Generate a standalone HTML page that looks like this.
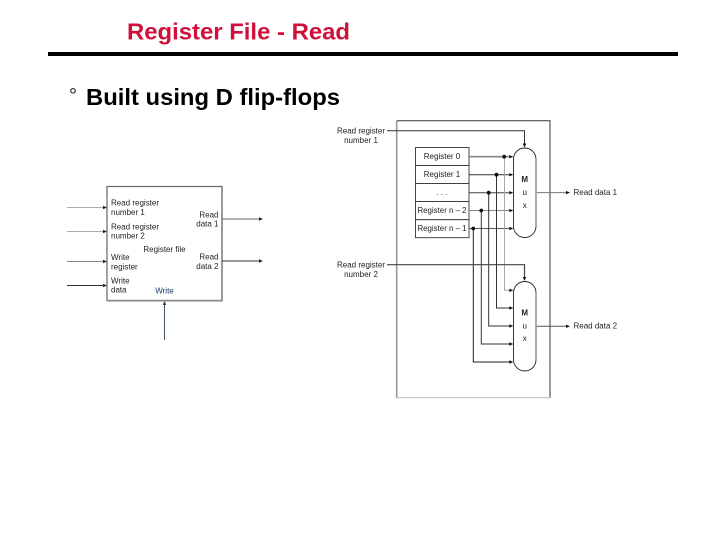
<!DOCTYPE html>
<html>
<head>
<meta charset="utf-8">
<style>
html,body{margin:0;padding:0;background:#fff;}
svg{display:block;}
text{font-family:"Liberation Sans",sans-serif;}
.s{font-size:8px;fill:#222;}
.m{text-anchor:middle;}
.e{text-anchor:end;}
</style>
</head>
<body>
<svg width="720" height="540" viewBox="0 0 720 540" xmlns="http://www.w3.org/2000/svg">
<rect width="720" height="540" fill="#fff"/>
<text x="127" y="39.5" fill="#d0103a" font-weight="bold" textLength="223" lengthAdjust="spacingAndGlyphs" style="font-size:23.5px">Register File - Read</text>
<rect x="48" y="52" width="630" height="4" fill="#000"/>
<text x="69" y="102" fill="#222" style="font-size:20px">°</text>
<text x="86" y="105" font-weight="bold" fill="#000" textLength="254" lengthAdjust="spacingAndGlyphs" style="font-size:23.5px">Built using D flip-flops</text>

<!-- Left block -->
<rect x="107" y="186.5" width="115" height="114" fill="#fff" stroke="#666" stroke-width="1.2"/>
<path d="M107 300.7H222V186.5" fill="none" stroke="#888" stroke-width="1.6"/>
<g fill="none" stroke-width="1">
<path d="M67 207.5H104" stroke="#aaa"/>
<path d="M67 231.5H104" stroke="#aaa"/>
<path d="M67 261.5H104" stroke="#888"/>
<path d="M67 285.5H104" stroke="#333"/>
<path d="M222 219H260" stroke="#666"/>
<path d="M222 261H260" stroke="#333"/>
<path d="M164.5 304V340" stroke="#456"/>
</g>
<g fill="#222">
<path d="M107 207.5l-4 -1.8v3.6z"/>
<path d="M107 231.5l-4 -1.8v3.6z"/>
<path d="M107 261.5l-4 -1.8v3.6z"/>
<path d="M107 285.5l-4 -1.8v3.6z"/>
<path d="M263 219l-4 -1.8v3.6z"/>
<path d="M263 261l-4 -1.8v3.6z"/>
<path d="M164.5 301l-1.8 4h3.6z" fill="#345"/>
</g>
<g class="s">
<text x="111" y="205.5">Read register</text>
<text x="111" y="215">number 1</text>
<text x="111" y="229.5">Read register</text>
<text x="111" y="238.5">number 2</text>
<text x="111" y="260">Write</text>
<text x="111" y="269.5">register</text>
<text x="111" y="283.5">Write</text>
<text x="111" y="292.5">data</text>
<text x="218.5" y="217.5" class="e">Read</text>
<text x="218.5" y="226.5" class="e">data 1</text>
<text x="218.5" y="259.5" class="e">Read</text>
<text x="218.5" y="269" class="e">data 2</text>
<text x="164.5" y="252" class="m">Register file</text>
<text x="164.5" y="293.5" class="m" style="fill:#1d3a66">Write</text>
</g>

<!-- Right frame -->
<path d="M396.7 120.7H550V397.7" fill="none" stroke="#333" stroke-width="1"/>
<path d="M396.7 120.7V397.7" fill="none" stroke="#999" stroke-width="1.6"/>
<path d="M396.7 397.7H550" fill="none" stroke="#bbb" stroke-width="1"/>

<!-- Registers -->
<g fill="#fff" stroke="#333" stroke-width="0.9">
<rect x="415.5" y="147.5" width="53.5" height="18"/>
<rect x="415.5" y="165.5" width="53.5" height="18"/>
<rect x="415.5" y="183.5" width="53.5" height="18"/>
<rect x="415.5" y="201.5" width="53.5" height="18.2"/>
<rect x="415.5" y="219.7" width="53.5" height="18"/>
</g>
<g class="s">
<text x="442" y="159" class="m">Register 0</text>
<text x="442" y="177" class="m">Register 1</text>
<text x="442" y="195" class="m">. . .</text>
<text x="442" y="213" class="m" style="font-size:7.9px">Register n – 2</text>
<text x="442" y="231" class="m" style="font-size:7.9px">Register n – 1</text>
</g>

<!-- Horizontal lines -->
<g fill="none" stroke-width="1">
<path d="M469 156.7H511" stroke="#888" stroke-width="1.6"/>
<path d="M469 174.7H510" stroke="#333"/>
<path d="M469 192.7H510" stroke="#444"/>
<path d="M469 210.5H510" stroke="#888"/>
<path d="M469 228.5H510" stroke="#555"/>
<!-- verticals -->
<path d="M504.5 156.7V290.3H510" stroke="#aaa"/>
<path d="M496.5 174.7V308H510" stroke="#333"/>
<path d="M488.7 192.7V326H510" stroke="#333"/>
<path d="M481.3 210.5V344H510" stroke="#333"/>
<path d="M473.3 228.5V362H510" stroke="#222"/>
<!-- select -->
<path d="M387 130.7H524.5V144" stroke="#333"/>
<path d="M387 264.7H524.5V278" stroke="#444" stroke-width="1.2"/>
<!-- outputs -->
<path d="M536 192.6H567" stroke="#777"/>
<path d="M536 326.3H567" stroke="#555"/>
</g>
<g fill="#111">
<circle cx="504.2" cy="156.7" r="1.9"/>
<circle cx="496.5" cy="174.7" r="1.9"/>
<circle cx="488.7" cy="192.7" r="1.9"/>
<circle cx="481.3" cy="210.5" r="1.9"/>
<circle cx="473.3" cy="228.5" r="1.9"/>
<path d="M513.3 156.7l-4 -1.7v3.4z"/>
<path d="M513.3 174.7l-4 -1.7v3.4z"/>
<path d="M513.3 192.7l-4 -1.7v3.4z"/>
<path d="M513.3 210.5l-4 -1.7v3.4z"/>
<path d="M513.3 228.5l-4 -1.7v3.4z"/>
<path d="M513.3 290.3l-4 -1.7v3.4z"/>
<path d="M513.3 308l-4 -1.7v3.4z"/>
<path d="M513.3 326l-4 -1.7v3.4z"/>
<path d="M513.3 344l-4 -1.7v3.4z"/>
<path d="M513.3 362l-4 -1.7v3.4z"/>
<path d="M524.5 147.5l-1.7 -4h3.4z"/>
<path d="M524.5 281l-1.7 -4h3.4z"/>
<path d="M570 192.6l-4 -1.7v3.4z"/>
<path d="M570 326.3l-4 -1.7v3.4z"/>
</g>

<!-- Muxes -->
<rect x="513.5" y="148" width="22.5" height="89.5" rx="11.2" ry="11.2" fill="#fff" stroke="#222" stroke-width="0.9"/>
<path d="M536 159V226" stroke="#999" stroke-width="1.6" fill="none"/>
<rect x="513.5" y="281.5" width="22.5" height="89.5" rx="11.2" ry="11.2" fill="#fff" stroke="#222" stroke-width="0.9"/>
<path d="M536 292.5V359.5" stroke="#999" stroke-width="1.6" fill="none"/>
<g class="s">
<text x="524.7" y="182" class="m" style="font-weight:bold">M</text>
<text x="524.7" y="195" class="m">u</text>
<text x="524.7" y="208" class="m">x</text>
<text x="524.7" y="315.5" class="m" style="font-weight:bold">M</text>
<text x="524.7" y="328.5" class="m">u</text>
<text x="524.7" y="341" class="m">x</text>
</g>

<!-- Right labels -->
<g class="s">
<text x="361" y="133.5" class="m">Read register</text>
<text x="361" y="143" class="m">number 1</text>
<text x="361" y="267.5" class="m">Read register</text>
<text x="361" y="277" class="m">number 2</text>
<text x="573.5" y="195">Read data 1</text>
<text x="573.5" y="328.7">Read data 2</text>
</g>
</svg>
</body>
</html>
